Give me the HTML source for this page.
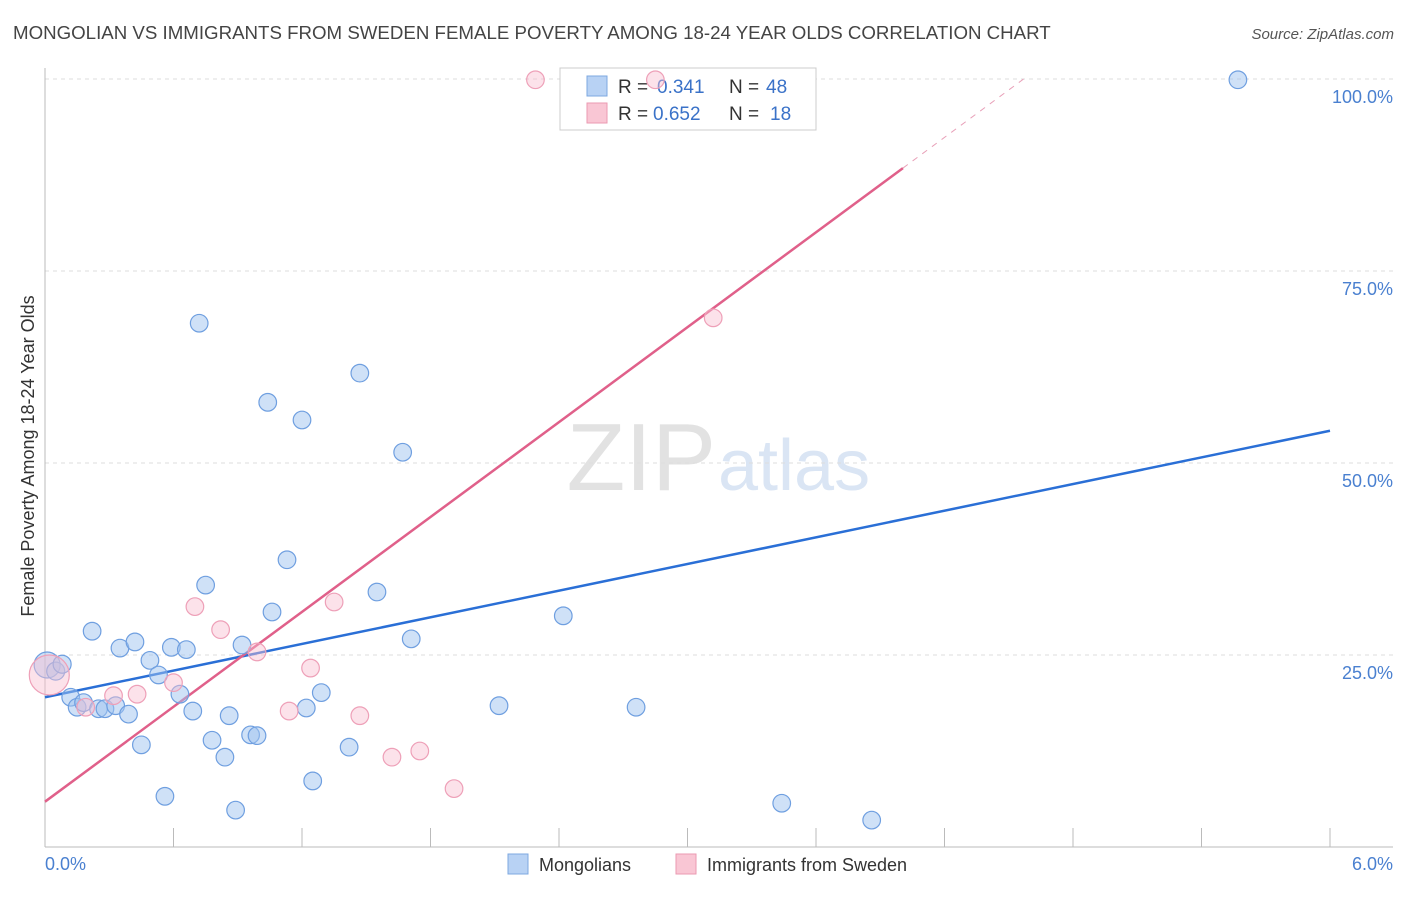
<!DOCTYPE html>
<html><head><meta charset="utf-8"><style>
body{margin:0;background:#fff;font-family:"Liberation Sans",sans-serif;}
svg text{font-family:"Liberation Sans",sans-serif;}
</style></head><body>
<svg width="1406" height="892">
<text x="13" y="39" font-size="18.7" fill="#444">MONGOLIAN VS IMMIGRANTS FROM SWEDEN FEMALE POVERTY AMONG 18-24 YEAR OLDS CORRELATION CHART</text>
<text x="1394" y="39" font-size="15" fill="#555" font-style="italic" text-anchor="end">Source: ZipAtlas.com</text>
<text x="716" y="490" font-size="96" fill="#e2e2e2" font-family="Liberation Serif" text-anchor="end">ZIP</text>
<text x="718" y="490" font-size="72" fill="#dae5f4">atlas</text>
<g id="grid"></g><g id="axes"></g><g id="lines"></g>
<g>
<rect x="560" y="68" width="256" height="62" fill="#fff" stroke="#ccc"/>
<rect x="587" y="76" width="20" height="20" fill="#b8d2f4" stroke="#7ea8e0"/>
<rect x="587" y="103" width="20" height="20" fill="#f9c6d4" stroke="#eb9ab2"/>
<text x="618" y="93" font-size="19" fill="#333">R =</text>
<text x="657" y="93" font-size="19" fill="#3a72c8">0.341</text>
<text x="729" y="93" font-size="19" fill="#333">N =</text>
<text x="766" y="93" font-size="19" fill="#3a72c8">48</text>
<text x="618" y="120" font-size="19" fill="#333">R =</text>
<text x="653" y="120" font-size="19" fill="#3a72c8">0.652</text>
<text x="729" y="120" font-size="19" fill="#333">N =</text>
<text x="770" y="120" font-size="19" fill="#3a72c8">18</text>
</g>
<g id="pts"></g>
<text transform="translate(34,456) rotate(-90)" font-size="18" fill="#333" text-anchor="middle">Female Poverty Among 18-24 Year Olds</text>
<text x="45" y="870" font-size="18" fill="#4a80d0">0.0%</text>
<text x="1393" y="870" font-size="18" fill="#4a80d0" text-anchor="end">6.0%</text>
<g>
<rect x="508" y="854" width="20" height="20" fill="#b8d2f4" stroke="#7ea8e0"/>
<text x="539" y="871" font-size="18" fill="#333">Mongolians</text>
<rect x="676" y="854" width="20" height="20" fill="#f9c6d4" stroke="#eb9ab2"/>
<text x="707" y="871" font-size="18" fill="#333">Immigrants from Sweden</text>
</g>
</svg>
<script>
const blueX=[0.01,0.05,0.08,0.12,0.15,0.18,0.22,0.25,0.28,0.33,0.35,0.39,0.42,0.45,0.49,0.53,0.56,0.59,0.63,0.66,0.69,0.72,0.75,0.78,0.84,0.86,0.89,0.92,0.96,0.99,1.04,1.06,1.13,1.20,1.22,1.25,1.29,1.42,1.47,1.55,1.67,1.71,2.12,2.42,2.76,3.44,3.86,5.57];
const blueY=[23.7,22.9,23.8,19.5,18.2,18.8,28.1,18.0,18.0,18.4,25.9,17.3,26.7,13.3,24.3,22.4,6.6,26.0,19.9,25.7,17.7,68.2,34.1,13.9,11.7,17.1,4.8,26.3,14.6,14.5,57.9,30.6,37.4,55.6,18.1,8.6,20.1,13.0,61.7,33.2,51.4,27.1,18.4,30.1,18.2,5.7,3.5,99.9];
const pinkX=[0.02,0.19,0.32,0.43,0.60,0.70,0.82,0.99,1.14,1.24,1.35,1.47,1.62,1.75,1.91,2.29,2.85,3.12];
const pinkY=[22.4,18.2,19.7,19.9,21.4,31.3,28.3,25.4,17.7,23.3,31.9,17.1,11.7,12.5,7.6,99.9,99.9,68.9];
const yTicks=[25,50,75,100];
const blueFit=[19.5,54.2];
const pinkFit=[5.9,88.4,4.006];
const NS='http://www.w3.org/2000/svg';
const sx=v=>45+v/6*1285, sy=v=>847-v*7.68;
function mk(p,t,a){const e=document.createElementNS(NS,t);for(const k in a)e.setAttribute(k,a[k]);p.appendChild(e);return e;}
const grid=document.getElementById('grid'),axes=document.getElementById('axes');
yTicks.forEach(t=>{
 const l=mk(grid,'line',{x1:45,x2:1393,y1:sy(t),y2:sy(t),stroke:'#ddd','stroke-dasharray':'4,4'});
 
 
 const tx=mk(grid,'text',{x:1393,y:sy(t)+24,'font-size':18,fill:'#4a80d0','text-anchor':'end'});
 tx.textContent=t.toFixed(1)+'%';
 
 
});
mk(axes,'line',{x1:45,x2:45,y1:68,y2:847,stroke:'#bbb'});
mk(axes,'line',{x1:45,x2:1393,y1:847,y2:847,stroke:'#bbb'});
for(let i=1;i<=10;i++){const tk=mk(axes,'line',{x1:sx(i*0.6),x2:sx(i*0.6),y1:828,y2:847,stroke:'#bbb'});
 
 }
const lines=document.getElementById('lines');
const bl=mk(lines,'line',{x1:sx(0),y1:sy(blueFit[0]),x2:sx(6),y2:sy(blueFit[1]),stroke:'#2a6fd6','stroke-width':2.5});


const slope=(pinkFit[1]-pinkFit[0])/pinkFit[2];
const pl=mk(lines,'line',{x1:sx(0),y1:sy(pinkFit[0]),x2:sx(pinkFit[2]),y2:sy(pinkFit[1]),stroke:'#e0608a','stroke-width':2.5});


const xe=(100-pinkFit[0])/slope;
const pd=mk(lines,'line',{x1:sx(pinkFit[2]),y1:sy(pinkFit[1]),x2:sx(xe),y2:sy(100),stroke:'#e8a0b8','stroke-width':1,'stroke-dasharray':'6,6'});


const pts=document.getElementById('pts');
blueX.forEach((x,i)=>{const c=mk(pts,'circle',{cx:sx(x),cy:sy(blueY[i]),r:i<3?(i==0?13:9):8.8,fill:'rgba(160,196,240,0.5)',stroke:'#6f9fe0','stroke-width':1.2});
 
 });
pinkX.forEach((x,i)=>{const c=mk(pts,'circle',{cx:sx(x),cy:sy(pinkY[i]),r:i==0?20:8.8,fill:'rgba(248,190,208,0.45)',stroke:'#eea0b8','stroke-width':1.2});
 
 });
</script>
</body></html>
